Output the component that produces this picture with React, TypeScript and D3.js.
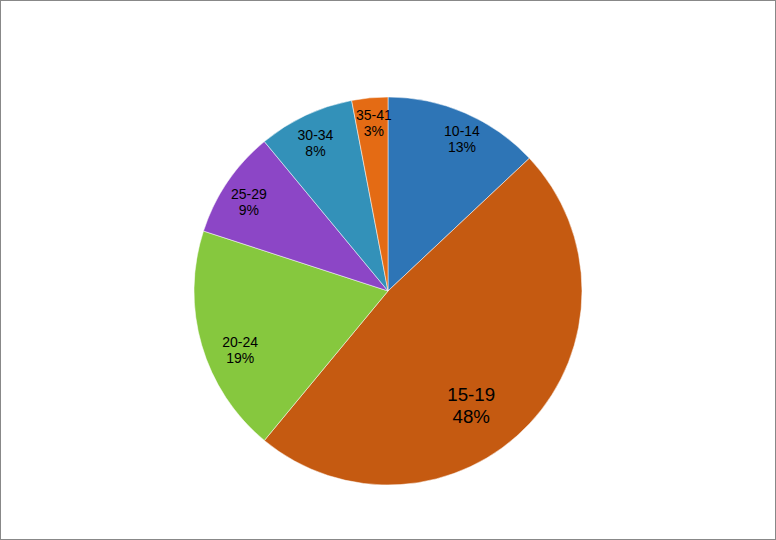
import React from "react";
import * as d3 from "d3";

const categories = ["10-14", "15-19", "20-24", "25-29", "30-34", "35-41"];
const values = [13, 48, 19, 9, 8, 3];
const colors = ["#2E75B6", "#C55A11", "#86C83E", "#8C46C6", "#3391B9", "#E46B14"];
// label placement tweaks (radius factor, angle shift in degrees, font size)
const labelRadius = [0.87, 0.73, 0.82, 0.85, 0.85, 0.87];
const labelShift = [2.6, 10.8, -5.5, -1.7, -0.9, 0.6];
const labelSize = [14, 18.7, 14, 14, 14, 14];

const W = 776;
const H = 540;
const cx = 388;
const cy = 291;
const R = 194;

export default function App() {
  React.useEffect(() => {
    document.body.style.margin = "0";
  }, []);
  const total = d3.sum(values);
  const pie = d3
    .pie<number>()
    .sort(null)
    .value((d) => d);
  const arcs = pie(values);
  const arcGen = d3.arc<d3.PieArcDatum<number>>().innerRadius(0).outerRadius(R);
  return (
    <svg
      width={W}
      height={H}
      style={{ position: "absolute", left: 0, top: 0, display: "block" }}
      fontFamily="'Liberation Sans', Arial, sans-serif"
    >
      <rect x={0.5} y={0.5} width={W - 1} height={H - 1} fill="#fff" stroke="#888" strokeWidth={1} />
      <g transform={`translate(${cx},${cy})`}>
        {arcs.map((a, i) => (
          <path key={i} d={arcGen(a) || ""} fill={colors[i]} stroke="#fff" strokeWidth={0.5} />
        ))}
        {arcs.map((a, i) => {
          const mid = (a.startAngle + a.endAngle) / 2 + (labelShift[i] * Math.PI) / 180;
          const r = R * labelRadius[i];
          const x = Math.sin(mid) * r;
          const y = -Math.cos(mid) * r;
          const fs = labelSize[i];
          const lh = fs * 1.15;
          const pct = Math.round((values[i] / total) * 100) + "%";
          return (
            <text key={"t" + i} x={x} y={y} textAnchor="middle" fontSize={fs} fill="#000">
              <tspan x={x} dy={-lh / 2 + fs * 0.35}>{categories[i]}</tspan>
              <tspan x={x} dy={lh}>{pct}</tspan>
            </text>
          );
        })}
      </g>
    </svg>
  );
}
